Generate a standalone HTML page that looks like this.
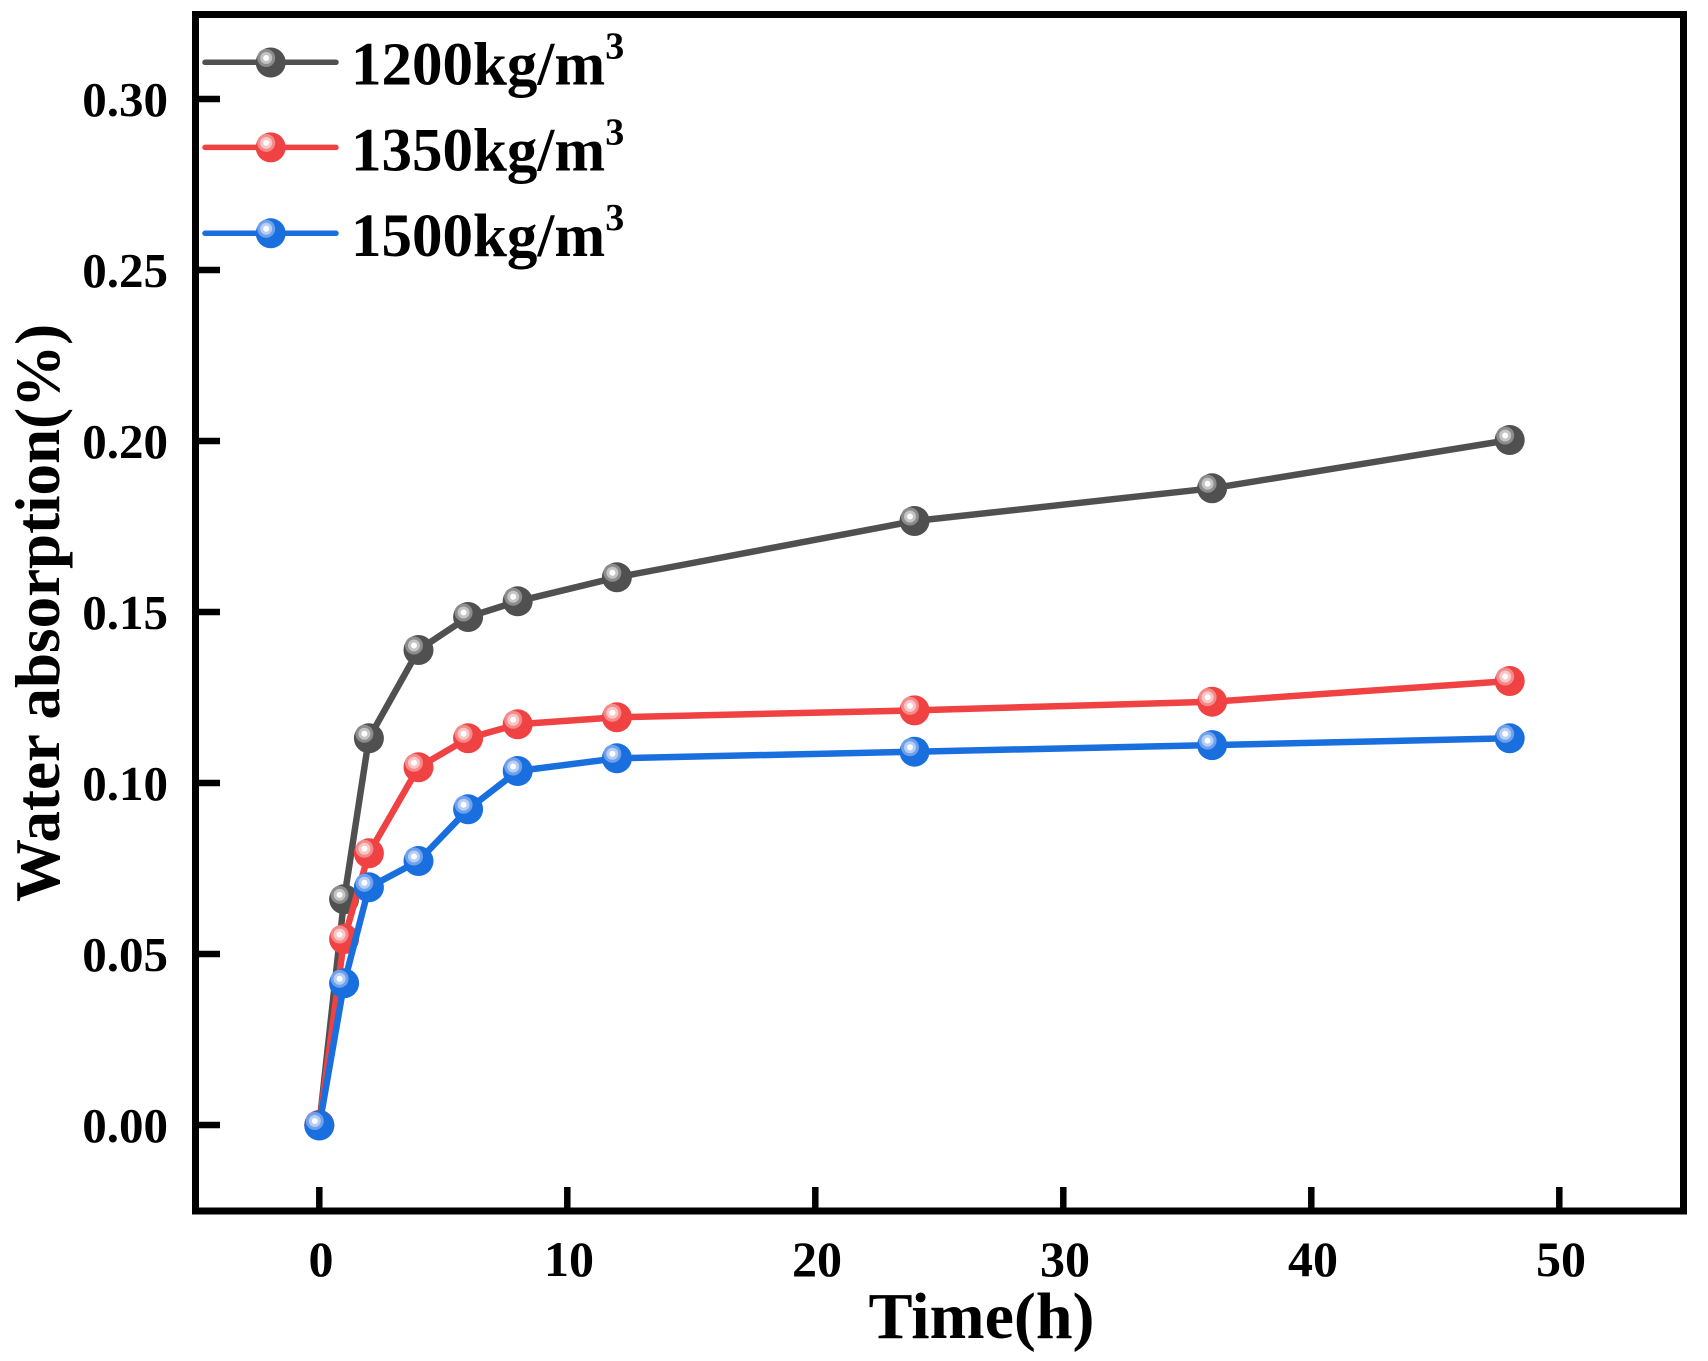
<!DOCTYPE html>
<html>
<head>
<meta charset="utf-8">
<style>
html,body{margin:0;padding:0;background:#fff;}
svg{display:block;}
text{font-family:"Liberation Serif","Times New Roman",serif;font-weight:bold;fill:#000;}
</style>
</head>
<body>
<svg width="1708" height="1361" viewBox="0 0 1708 1361" xmlns="http://www.w3.org/2000/svg">
<defs>
  <g id="mg">
    <circle r="15" fill="#505050"/>
    <circle cx="-4.5" cy="-4.5" r="9" fill="#8c8c8c"/>
    <circle cx="-4.5" cy="-4.5" r="6" fill="#c4c4c4"/>
    <circle cx="-4.5" cy="-4.5" r="3" fill="#ffffff"/>
  </g>
  <g id="mr">
    <circle r="15" fill="#f04242"/>
    <circle cx="-4.5" cy="-4.5" r="9" fill="#f58a8a"/>
    <circle cx="-4.5" cy="-4.5" r="6" fill="#fbc6c6"/>
    <circle cx="-4.5" cy="-4.5" r="3" fill="#ffffff"/>
  </g>
  <g id="mb">
    <circle r="15" fill="#1a6fde"/>
    <circle cx="-4.5" cy="-4.5" r="9" fill="#6fa0ec"/>
    <circle cx="-4.5" cy="-4.5" r="6" fill="#b5cef6"/>
    <circle cx="-4.5" cy="-4.5" r="3" fill="#ffffff"/>
  </g>
</defs>

<!-- ticks -->
<g stroke="#000" stroke-width="6.5">
  <line x1="199" y1="1125" x2="220" y2="1125"/>
  <line x1="199" y1="954" x2="220" y2="954"/>
  <line x1="199" y1="783" x2="220" y2="783"/>
  <line x1="199" y1="612" x2="220" y2="612"/>
  <line x1="199" y1="441" x2="220" y2="441"/>
  <line x1="199" y1="270" x2="220" y2="270"/>
  <line x1="199" y1="99" x2="220" y2="99"/>

  <line x1="319.3" y1="1208" x2="319.3" y2="1187"/>
  <line x1="567.3" y1="1208" x2="567.3" y2="1187"/>
  <line x1="815.3" y1="1208" x2="815.3" y2="1187"/>
  <line x1="1063.3" y1="1208" x2="1063.3" y2="1187"/>
  <line x1="1311.3" y1="1208" x2="1311.3" y2="1187"/>
  <line x1="1559.3" y1="1208" x2="1559.3" y2="1187"/>
</g>

<!-- frame -->
<rect x="195.5" y="14.5" width="1488" height="1196.5" fill="none" stroke="#000" stroke-width="7"/>

<!-- y tick labels -->
<g font-size="49" text-anchor="end">
  <text x="168" y="1142">0.00</text>
  <text x="168" y="971">0.05</text>
  <text x="168" y="800">0.10</text>
  <text x="168" y="629">0.15</text>
  <text x="168" y="458">0.20</text>
  <text x="168" y="287">0.25</text>
  <text x="168" y="116">0.30</text>
</g>

<!-- x tick labels -->
<g font-size="50" text-anchor="middle">
  <text x="321" y="1276">0</text>
  <text x="569" y="1276">10</text>
  <text x="817" y="1276">20</text>
  <text x="1065" y="1276">30</text>
  <text x="1313" y="1276">40</text>
  <text x="1561" y="1276">50</text>
</g>

<!-- axis titles -->
<text x="981.5" y="1338" font-size="66" text-anchor="middle">Time(h)</text>
<text transform="translate(59,613) rotate(-90)" font-size="63" text-anchor="middle">Water absorption(%)</text>

<!-- series gray -->
<polyline fill="none" stroke="#505050" stroke-width="6.5" stroke-linejoin="round"
  points="319.3,1125 344.1,899.3 368.9,738.3 418.5,650 468.1,617 517.7,601.3 616.9,577.3 914.5,521 1212.1,488.3 1509.7,440"/>
<use href="#mg" x="319.3" y="1125"/>
<use href="#mg" x="344.1" y="899.3"/>
<use href="#mg" x="368.9" y="738.3"/>
<use href="#mg" x="418.5" y="650"/>
<use href="#mg" x="468.1" y="617"/>
<use href="#mg" x="517.7" y="601.3"/>
<use href="#mg" x="616.9" y="577.3"/>
<use href="#mg" x="914.5" y="521"/>
<use href="#mg" x="1212.1" y="488.3"/>
<use href="#mg" x="1509.7" y="440"/>

<!-- series red -->
<polyline fill="none" stroke="#f04242" stroke-width="6.5" stroke-linejoin="round"
  points="319.3,1125 344.1,939 368.9,853.3 418.5,767.3 468.1,738.3 517.7,724.3 616.9,717.3 914.5,710.4 1212.1,701.7 1509.7,681"/>
<use href="#mr" x="319.3" y="1125"/>
<use href="#mr" x="344.1" y="939"/>
<use href="#mr" x="368.9" y="853.3"/>
<use href="#mr" x="418.5" y="767.3"/>
<use href="#mr" x="468.1" y="738.3"/>
<use href="#mr" x="517.7" y="724.3"/>
<use href="#mr" x="616.9" y="717.3"/>
<use href="#mr" x="914.5" y="710.4"/>
<use href="#mr" x="1212.1" y="701.7"/>
<use href="#mr" x="1509.7" y="681"/>

<!-- series blue -->
<polyline fill="none" stroke="#1a6fde" stroke-width="6.5" stroke-linejoin="round"
  points="319.3,1125.5 344.1,983.3 368.9,887.3 418.5,861 468.1,809.3 517.7,771 616.9,758.3 914.5,751.7 1212.1,745.1 1509.7,738.3"/>
<use href="#mb" x="319.3" y="1125.5"/>
<use href="#mb" x="344.1" y="983.3"/>
<use href="#mb" x="368.9" y="887.3"/>
<use href="#mb" x="418.5" y="861"/>
<use href="#mb" x="468.1" y="809.3"/>
<use href="#mb" x="517.7" y="771"/>
<use href="#mb" x="616.9" y="758.3"/>
<use href="#mb" x="914.5" y="751.7"/>
<use href="#mb" x="1212.1" y="745.1"/>
<use href="#mb" x="1509.7" y="738.3"/>

<!-- legend -->
<line x1="205" y1="62.3" x2="336" y2="62.3" stroke="#505050" stroke-width="5.5" stroke-linecap="round"/>
<use href="#mg" x="270.7" y="62.5"/>
<line x1="205" y1="147.4" x2="336" y2="147.4" stroke="#f04242" stroke-width="5.5" stroke-linecap="round"/>
<use href="#mr" x="270.7" y="147.4"/>
<line x1="205" y1="233.3" x2="336" y2="233.3" stroke="#1a6fde" stroke-width="5.5" stroke-linecap="round"/>
<use href="#mb" x="270.7" y="233.3"/>

<g font-size="61">
  <text x="351" y="84.6">1200kg/m<tspan font-size="38" dy="-26">3</tspan></text>
  <text x="351" y="170.4">1350kg/m<tspan font-size="38" dy="-26">3</tspan></text>
  <text x="351" y="255.9">1500kg/m<tspan font-size="38" dy="-26">3</tspan></text>
</g>
</svg>
</body>
</html>
